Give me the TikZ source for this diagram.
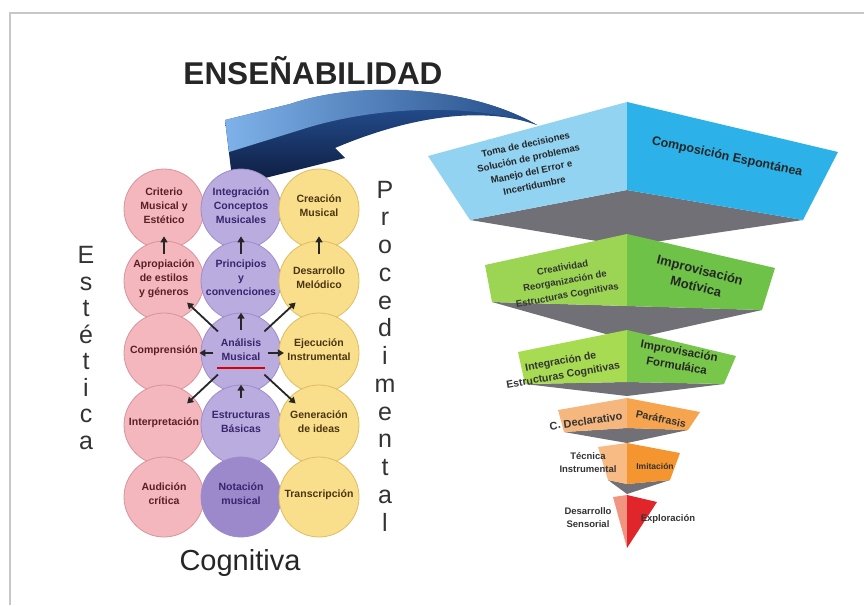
\documentclass[tikz,border=0pt]{standalone}
\usepackage{fontspec}
\setmainfont{Liberation Sans}
\usepackage{tikz}
\usetikzlibrary{shapes,arrows,positioning,calc,arrows.meta}

\definecolor{rosa}{HTML}{F4B7BE}
\definecolor{rosaB}{HTML}{D9939B}
\definecolor{rosaT}{HTML}{5A1E25}
\definecolor{lila}{HTML}{BAACDF}
\definecolor{lilaB}{HTML}{9D8CCB}
\definecolor{lilaD}{HTML}{9C89CC}
\definecolor{lilaT}{HTML}{39246E}
\definecolor{amar}{HTML}{F9DE8C}
\definecolor{amarB}{HTML}{E0BD5E}
\definecolor{amarT}{HTML}{4A3510}
\definecolor{sombra}{HTML}{707076}
\definecolor{azulC}{HTML}{7FB2EA}
\definecolor{azulM}{HTML}{2A5CA6}
\definecolor{azulO}{HTML}{0D1A3C}

\tikzset{
  ball/.style={circle, minimum size=80pt, inner sep=0pt, line width=0.8pt,
    font=\fontsize{10.5}{14}\selectfont\bfseries},
  pinkball/.style={ball, fill=rosa, draw=rosaB, text=rosaT},
  violetball/.style={ball, fill=lila, draw=lilaB, text=lilaT},
  yellowball/.style={ball, fill=amar, draw=amarB, text=amarT},
  flecha/.style={-{Triangle[length=6pt,width=7pt]}, line width=1.8pt, black!85},
  etapa/.style={align=center, inner sep=0pt, font=\bfseries},
  eje/.style={align=center, inner sep=0pt, text=black!80},
}
\newcommand{\celda}[1]{\smash{\makebox[0pt]{\begin{tabular}{@{}c@{}}#1\end{tabular}}}}

\begin{document}
\begin{tikzpicture}[x=1pt,y=-1pt]
    \useasboundingbox (0,0) rectangle (864,605);
    \draw[black!22, line width=1.5pt] (10,605) -- (10,13) -- (864,13);

    % Titulo y flecha
    \node[font=\fontsize{31.5}{34}\selectfont\bfseries, text=black!85] (ensena) at (313,71) {ENSEÑABILIDAD};
    \shade[top color=azulM, bottom color=azulO]
        (537,125) .. controls (470,86) and (360,80) .. (290,104) -- (225,120) -- (233,186)
        -- (345,158) -- (335,148) .. controls (420,112) and (490,108) .. cycle;
    \shade[left color=azulC, right color=azulM!80!black]
        (537,125) .. controls (470,86) and (360,80) .. (290,104) -- (225,120) -- (229,152)
        -- (300,130) .. controls (380,104) and (480,104) .. cycle;

    % Columna estetica
    \node[pinkball] (crit) at (164,209) {\celda{Criterio\\Musical y\\Estético}};
    \node[pinkball] (apro) at (164,281) {\celda{Apropiación\\de estilos\\y géneros}};
    \node[pinkball] (comp) at (164,353) {\celda{Comprensión}};
    \node[pinkball] (inter) at (164,425) {\celda{Interpretación}};
    \node[pinkball] (audi) at (164,497) {\celda{Audición\\crítica}};

    % Columna cognitiva
    \node[violetball] (integ) at (241,209) {\celda{Integración\\Conceptos\\Musicales}};
    \node[violetball] (princ) at (241,281) {\celda{Principios\\y\\convenciones}};
    \node[violetball] (anal) at (241,353) {\celda{Análisis\\Musical}};
    \node[violetball] (estr) at (241,425) {\celda{Estructuras\\Básicas}};
    \node[violetball, fill=lilaD] (nota) at (241,497) {\celda{Notación\\musical}};

    % Columna procedimental
    \node[yellowball] (crea) at (319,209) {\celda{Creación\\Musical}};
    \node[yellowball] (desa) at (319,281) {\celda{Desarrollo\\Melódico}};
    \node[yellowball] (ejec) at (319,353) {\celda{Ejecución\\Instrumental}};
    \node[yellowball] (gene) at (319,425) {\celda{Generación\\de ideas}};
    \node[yellowball] (trans) at (319,497) {\celda{Transcripción}};

    \draw[red!85!black, line width=2pt] ($(anal)+(-24,15)$) -- ($(anal)+(24,15)$);

    % Flechas
    \draw[flecha] ($(apro)!0.38!(crit)$) -- ($(apro)!0.62!(crit)$);
    \draw[flecha] ($(princ)!0.38!(integ)$) -- ($(princ)!0.62!(integ)$);
    \draw[flecha] ($(desa)!0.38!(crea)$) -- ($(desa)!0.62!(crea)$);
    \draw[flecha] ($(anal)!0.32!(princ)$) -- ($(anal)!0.56!(princ)$);
    \draw[flecha] ($(estr)!0.38!(anal)$) -- ($(estr)!0.56!(anal)$);
    \draw[flecha] ($(anal)!0.3!(apro)$) -- ($(anal)!0.7!(apro)$);
    \draw[flecha] ($(anal)!0.3!(desa)$) -- ($(anal)!0.7!(desa)$);
    \draw[flecha] ($(anal)!0.3!(inter)$) -- ($(anal)!0.7!(inter)$);
    \draw[flecha] ($(anal)!0.3!(gene)$) -- ($(anal)!0.7!(gene)$);
    \draw[flecha] ($(anal)!0.36!(comp)$) -- ($(anal)!0.54!(comp)$);
    \draw[flecha] ($(anal)!0.34!(ejec)$) -- ($(anal)!0.55!(ejec)$);

    % Ejes
    \node[eje, font=\fontsize{25}{26.5}\selectfont] (estetica) at (86,348) {E\\s\\t\\é\\t\\i\\c\\a};
    \node[eje, font=\fontsize{25}{27.75}\selectfont] (proced) at (385,356) {P\\r\\o\\c\\e\\d\\i\\m\\e\\n\\t\\a\\l};
    \node[font=\fontsize{29}{32}\selectfont, text=black!85] (cogn) at (240,563) {Cognitiva};

    % Piramide - nivel 1
    \fill[sombra] (470,220) -- (627,190) -- (803,220) -- (627,246) -- cycle;
    \fill[fill={rgb,255:red,147;green,211;blue,242}] (428,156) -- (627,102) -- (627,190) -- (470,220) -- cycle;
    \fill[fill={rgb,255:red,44;green,178;blue,232}] (627,102) -- (838,152) -- (803,220) -- (627,190) -- cycle;
    \node[etapa, rotate=12, font=\fontsize{9.5}{14}\selectfont\bfseries, text=black!85] (toma) at (530,165)
        {Toma de decisiones\\Solución de problemas\\Manejo del Error e\\Incertidumbre};
    \node[etapa, rotate=-12, font=\fontsize{12.5}{15}\selectfont\bfseries, text=black!85] (compo) at (727,157)
        {Composición Espontánea};

    % nivel 2
    \fill[sombra] (492,302) -- (627,306) -- (762,310) -- (627,340) -- cycle;
    \fill[fill={rgb,255:red,155;green,213;blue,83}] (485,265) -- (627,234) -- (627,306) -- (492,302) -- cycle;
    \fill[fill={rgb,255:red,109;green,194;blue,71}] (627,234) -- (775,268) -- (762,310) -- (627,306) -- cycle;
    \node[etapa, rotate=10, font=\fontsize{9.5}{14}\selectfont\bfseries, text=black!80] (creat) at (565,282)
        {Creatividad\\Reorganización de\\Estructuras Cognitivas};
    \node[etapa, rotate=-14, font=\fontsize{13}{17}\selectfont\bfseries, text=black!85] (motiv) at (698,278)
        {Improvisación\\Motívica};

    % nivel 3
    \fill[sombra] (525,384) -- (627,382) -- (724,384) -- (627,396) -- cycle;
    \fill[fill={rgb,255:red,167;green,219;blue,82}] (518,352) -- (627,330) -- (627,382) -- (525,384) -- cycle;
    \fill[fill={rgb,255:red,121;green,199;blue,74}] (627,330) -- (736,356) -- (724,384) -- (627,382) -- cycle;
    \node[etapa, rotate=10, font=\fontsize{10.5}{14}\selectfont\bfseries, text=black!80] (integr) at (562,369)
        {Integración de\\Estructuras Cognitivas};
    \node[etapa, rotate=-10, font=\fontsize{11.5}{15}\selectfont\bfseries, text=black!85] (formu) at (678,358)
        {Improvisación\\Formuláica};

    % nivel 4
    \fill[sombra] (564,432) -- (627,428) -- (688,430) -- (627,443) -- cycle;
    \fill[fill={rgb,255:red,246;green,183;blue,127}] (558,410) -- (627,398) -- (627,428) -- (564,432) -- cycle;
    \fill[fill={rgb,255:red,247;green,164;blue,78}] (627,398) -- (700,412) -- (688,430) -- (627,428) -- cycle;
    \node[etapa, rotate=8, font=\fontsize{11}{13}\selectfont\bfseries, text=black!80] (declar) at (586,421)
        {C. Declarativo};
    \node[etapa, rotate=-12, font=\fontsize{10.5}{13}\selectfont\bfseries, text=black!80] (paraf) at (661,419)
        {Paráfrasis};

    % nivel 5
    \fill[sombra] (608,480) -- (627,484) -- (670,480) -- (627,494) -- cycle;
    \fill[fill={rgb,255:red,248;green,187;blue,131}] (598,447) -- (627,443) -- (627,484) -- (608,480) -- cycle;
    \fill[fill={rgb,255:red,245;green,149;blue,47}] (627,443) -- (680,453) -- (670,480) -- (627,484) -- cycle;
    \node[etapa, font=\fontsize{9.5}{13}\selectfont\bfseries, text=black!80] (tecni) at (588,463)
        {Técnica\\Instrumental};
    \node[etapa, font=\fontsize{8.5}{10}\selectfont\bfseries, text=black!80] (imita) at (655,466)
        {Imitación};

    % nivel 6
    \fill[fill={rgb,255:red,242;green,149;blue,128}] (613,497) -- (627,495) -- (627,548) -- cycle;
    \fill[fill={rgb,255:red,224;green,38;blue,42}] (627,495) -- (657,502) -- (627,548) -- cycle;
    \node[etapa, font=\fontsize{9.5}{13}\selectfont\bfseries, text=black!80] (senso) at (588,518)
        {Desarrollo\\Sensorial};
    \node[etapa, font=\fontsize{9.5}{13}\selectfont\bfseries, text=black!80] (explo) at (668,519)
        {Exploración};
\end{tikzpicture}
\end{document}
